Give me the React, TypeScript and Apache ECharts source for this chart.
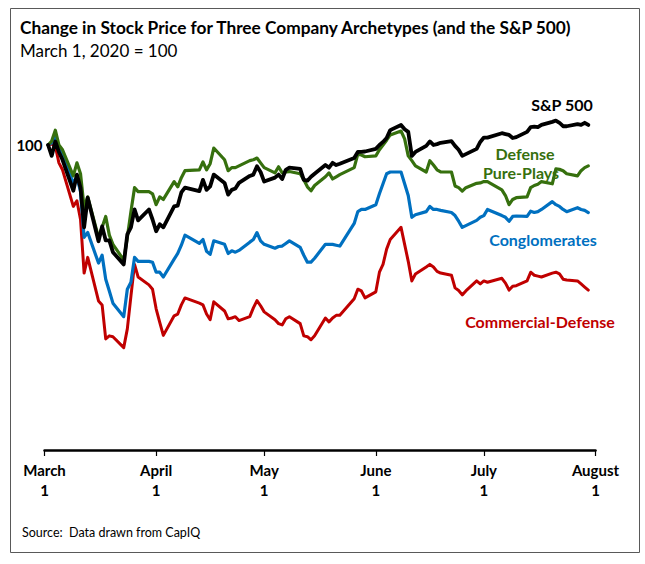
import React, { useEffect, useRef } from "react";
import * as echarts from "echarts";

// Trading days per month (2020), month index 2 = March
const marchDays = [2, 3, 4, 5, 6, 9, 10, 11, 12, 13, 16, 17, 18, 19, 20, 23, 24, 25, 26, 27, 30, 31];
const aprilDays = [1, 2, 3, 6, 7, 8, 9, 13, 14, 15, 16, 17, 20, 21, 22, 23, 24, 27, 28, 29, 30];
const mayDays = [1, 4, 5, 6, 7, 8, 11, 12, 13, 14, 15, 18, 19, 20, 21, 22, 26, 27, 28, 29];
const juneDays = [1, 2, 3, 4, 5, 8, 9, 10, 11, 12, 15, 16, 17, 18, 19, 22, 23, 24, 25, 26, 29, 30];
const julyDays = [1, 2, 6, 7, 8, 9, 10, 13, 14, 15, 16, 17, 20, 21, 22, 23, 24, 27, 28, 29, 30];

const tickMonthNames = ["March", "April", "May", "June", "July", "August"];

const sp500 = [
  100, 97.5, 100.8, 98.4, 96.6, 89.5, 93.2, 90.2, 81.1, 87.9, 77.9, 81.3, 78.1, 78.1, 75.4, 72.6, 79.5, 81.1, 85.2, 82.7, 85.2, 82.9,
  80.2, 81.8, 81.1, 85.9, 86.1, 89.1, 90.2, 89.4, 92.0, 89.7, 90.5, 93.2, 91.3, 88.6, 89.7, 90.0, 91.3, 92.9, 93.2, 95.1, 93.8,
  91.6, 92.5, 93.2, 92.2, 94.3, 94.8, 94.5, 92.0, 91.8, 92.7, 93.4, 95.4, 94.8, 95.9, 95.4, 95.7, 97.0, 98.4, 98.4, 98.5,
  99.1, 100.0, 100.7, 101.6, 103.4, 104.6, 103.6, 103.0, 97.5, 98.4, 99.8, 100.8, 100.0, 100.2, 100.5, 100.9, 99.8, 98.9, 97.5, 97.9, 99.1, 100.7,
  101.7, 101.7, 102.7, 102.5, 102.3, 101.6, 101.8, 103.0, 104.1, 104.2, 104.1, 104.6, 105.3, 105.6, 105.1, 104.3, 104.3, 104.8, 104.6, 105.1, 104.6,
];

const defensePurePlays = [
  100, 100.9, 103.4, 100.0, 98.9, 92.9, 95.9, 93.4, 85.6, 88.1, 78.8, 81.1, 83.6, 79.3, 77.2, 73.6, 78.8, 84.7, 90.2, 89.3, 89.3, 88.8,
  86.3, 88.1, 87.5, 91.6, 90.4, 92.5, 94.1, 94.3, 96.1, 94.3, 95.7, 99.3, 96.6, 94.1, 94.8, 94.8, 95.2, 96.4, 96.6, 97.0, 95.9,
  94.8, 93.6, 95.0, 93.6, 93.8, 93.9, 93.4, 92.0, 90.4, 89.5, 90.7, 92.7, 93.6, 92.2, 92.7, 93.2, 94.8, 97.9, 97.7, 97.3,
  97.5, 98.9, 100.0, 101.1, 102.3, 103.2, 101.4, 97.5, 96.4, 95.2, 93.8, 96.4, 95.4, 94.3, 93.8, 93.8, 90.6, 90.2, 89.4, 90.2, 91.2, 91.3,
  91.6, 91.6, 89.7, 88.4, 86.3, 87.5, 87.9, 88.1, 90.2, 90.7, 91.0, 91.6, 91.1, 94.5, 94.4, 94.1, 93.4, 92.9, 94.1, 94.8, 95.2,
];

const conglomerates = [
  100, 100.5, 101.8, 99.3, 97.5, 91.3, 92.7, 89.3, 78.8, 79.9, 72.9, 74.7, 69.2, 66.5, 63.7, 60.6, 66.9, 68.5, 74.2, 73.3, 73.3, 73.1,
  70.8, 70.8, 69.7, 73.8, 75.1, 77.0, 79.3, 77.4, 78.3, 75.6, 74.9, 78.0, 77.2, 75.1, 75.7, 75.4, 75.8, 77.7, 78.3, 79.9, 78.0,
  77.2, 76.3, 76.7, 76.8, 77.4, 78.0, 76.5, 74.7, 73.1, 73.1, 74.0, 77.2, 77.2, 77.2, 77.0, 76.8, 82.0, 84.7, 85.2, 85.2,
  86.3, 88.8, 91.1, 93.4, 93.8, 93.8, 91.1, 88.4, 83.4, 84.0, 84.7, 85.9, 85.2, 85.2, 85.0, 84.5, 83.8, 82.5, 81.1, 81.5, 82.7, 83.4,
  83.8, 85.2, 83.8, 83.4, 82.5, 83.6, 83.7, 83.6, 84.8, 84.5, 84.7, 85.2, 87.0, 86.3, 85.9, 85.2, 84.7, 85.6, 85.2, 85.0, 84.5,
];

const commercialDefense = [
  100, 100.2, 99.8, 95.9, 94.3, 85.9, 87.2, 82.9, 70.6, 74.2, 64.2, 63.3, 55.5, 56.2, 56.0, 53.5, 57.8, 65.3, 72.6, 69.7, 67.9, 66.9,
  62.4, 59.3, 56.3, 60.8, 61.2, 63.3, 64.9, 63.7, 63.3, 61.2, 59.9, 64.0, 61.9, 60.1, 60.3, 60.6, 59.7, 60.6, 62.6, 64.3, 63.1,
  61.7, 59.9, 59.0, 58.7, 60.1, 60.6, 59.0, 56.2, 56.0, 55.3, 56.2, 60.3, 59.4, 60.3, 60.9, 60.9, 64.7, 66.9, 66.5, 64.9,
  66.3, 70.8, 72.6, 76.1, 78.3, 81.1, 77.2, 73.3, 68.8, 70.4, 72.0, 72.6, 72.0, 71.0, 70.6, 70.1, 67.2, 66.6, 65.6, 66.5, 68.8, 68.1,
  68.8, 68.5, 69.4, 68.3, 66.7, 67.6, 67.7, 68.8, 70.8, 70.1, 69.9, 69.7, 70.6, 70.8, 70.4, 69.2, 69.0, 68.8, 68.1, 67.4, 66.7,
];

const monthTable: [number, number[]][] = [
  [2, marchDays],
  [3, aprilDays],
  [4, mayDays],
  [5, juneDays],
  [6, julyDays],
];
const tradingDates = monthTable.flatMap(([m, days]) => days.map((d) => new Date(2020, m, d).getTime()));
const pair = (vals: number[]) => tradingDates.map((t, i) => [t, vals[i]]);

const FONT = "Lato, 'Noto Sans', sans-serif";
const BLACK = "#000000";
const GREEN = "#36700E";
const BLUE = "#0070C0";
const RED = "#C00000";

const option: any = {
  animation: false,
  backgroundColor: "#ffffff",
  grid: { left: 44.5, right: 49.5, top: 101.4, bottom: 114 },
  xAxis: {
    type: "time",
    min: new Date(2020, 2, 1).getTime(),
    max: new Date(2020, 7, 1).getTime(),
    splitNumber: 5,
    axisLine: { show: true, lineStyle: { color: "#000", width: 2.5 } },
    axisTick: { show: true, length: 6, lineStyle: { color: "#000", width: 1.2 } },
    splitLine: { show: false },
    axisLabel: {
      color: "#000",
      fontFamily: FONT,
      fontWeight: "bold",
      fontSize: 15,
      lineHeight: 20,
      margin: 10,
      align: "center",
      showMinLabel: true,
      showMaxLabel: true,
      hideOverlap: false,
      formatter: (v: number) => {
        const d = new Date(v);
        const name = tickMonthNames[d.getMonth() - 2];
        return name ? `${name}\n${d.getDate()}` : "";
      },
    },
  },
  yAxis: {
    type: "value",
    min: 30,
    max: 110,
    interval: 10,
    axisLine: { show: false },
    axisTick: { show: false },
    splitLine: { show: false },
    axisLabel: {
      color: "#000",
      fontFamily: FONT,
      fontWeight: "bold",
      fontSize: 15,
      margin: 2,
      formatter: (v: number) => (v === 100 ? "100" : ""),
    },
  },
  series: [
    {
      name: "Commercial-Defense",
      type: "line",
      data: pair(commercialDefense),
      showSymbol: false,
      symbol: "none",
      lineStyle: { color: RED, width: 3, cap: "round", join: "round" },
    },
    {
      name: "Conglomerates",
      type: "line",
      data: pair(conglomerates),
      showSymbol: false,
      symbol: "none",
      lineStyle: { color: BLUE, width: 3.2, cap: "round", join: "round" },
    },
    {
      name: "Defense Pure-Plays",
      type: "line",
      data: pair(defensePurePlays),
      showSymbol: false,
      symbol: "none",
      lineStyle: { color: GREEN, width: 3.2, cap: "round", join: "round" },
    },
    {
      name: "S&P 500",
      type: "line",
      data: pair(sp500),
      showSymbol: false,
      symbol: "none",
      lineStyle: { color: BLACK, width: 3.8, cap: "round", join: "round" },
    },
  ],
  graphic: [
    {
      type: "rect",
      shape: { x: 10.5, y: 8.5, width: 629, height: 544 },
      style: { fill: "none", stroke: "#595959", lineWidth: 1 },
      silent: true,
    },
    {
      type: "text",
      x: 20,
      y: 27,
      style: {
        text: "Change in Stock Price for Three Company Archetypes (and the S&P 500)",
        fill: "#000",
        font: `bold 17.3px ${FONT}`,
        textAlign: "left",
        textVerticalAlign: "middle",
      },
    },
    {
      type: "text",
      x: 20,
      y: 50,
      style: {
        text: "March 1, 2020 = 100",
        fill: "#000",
        font: `17px ${FONT}`,
        textAlign: "left",
        textVerticalAlign: "middle",
      },
    },
    {
      type: "text",
      x: 562,
      y: 104,
      style: { text: "S&P 500", fill: BLACK, font: `bold 16px ${FONT}`, textAlign: "center", textVerticalAlign: "middle" },
    },
    {
      type: "text",
      x: 525,
      y: 153,
      style: { text: "Defense", fill: GREEN, font: `bold 16px ${FONT}`, textAlign: "center", textVerticalAlign: "middle" },
    },
    {
      type: "text",
      x: 521,
      y: 172,
      style: { text: "Pure-Plays", fill: GREEN, font: `bold 16px ${FONT}`, textAlign: "center", textVerticalAlign: "middle" },
    },
    {
      type: "text",
      x: 543,
      y: 239,
      style: { text: "Conglomerates", fill: BLUE, font: `bold 16px ${FONT}`, textAlign: "center", textVerticalAlign: "middle" },
    },
    {
      type: "text",
      x: 540,
      y: 321,
      style: { text: "Commercial-Defense", fill: RED, font: `bold 16px ${FONT}`, textAlign: "center", textVerticalAlign: "middle" },
    },
    {
      type: "text",
      x: 22,
      y: 532,
      style: { text: "Source:  Data drawn from CapIQ", fill: "#000", font: `12.5px ${FONT}`, textAlign: "left", textVerticalAlign: "middle" },
    },
  ],
};

export default function App() {
  const ref = useRef<HTMLDivElement>(null);
  useEffect(() => {
    if (!ref.current) return;
    const chart = echarts.init(ref.current, null, { renderer: "svg" });
    chart.setOption(option);
    return () => chart.dispose();
  }, []);
  return (
    <div
      ref={ref}
      style={{ position: "fixed", left: 0, top: 0, width: 645, height: 564, background: "#fff" }}
    />
  );
}
